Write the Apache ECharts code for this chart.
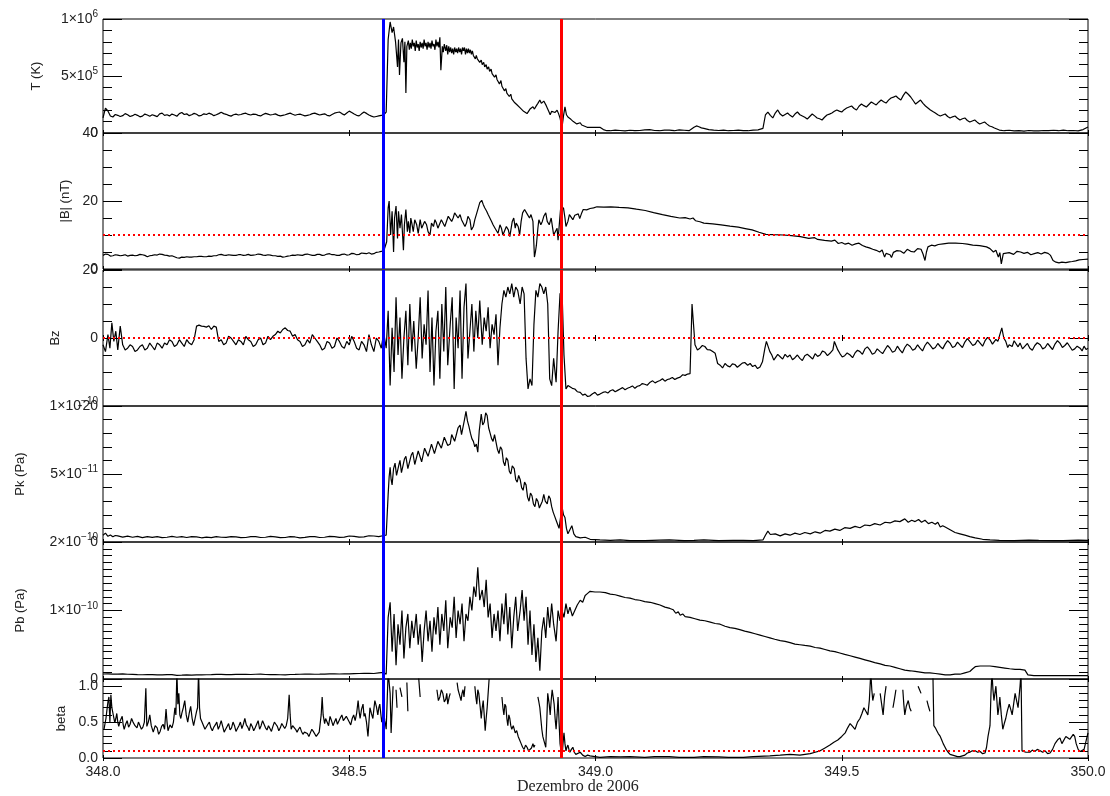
<!DOCTYPE html>
<html>
<head>
<meta charset="utf-8">
<script src="https://cdn.jsdelivr.net/npm/echarts@6/dist/echarts.min.js"></script>
<style>
html,body{margin:0;padding:0;background:#fff;}
#chart{width:1110px;height:796px;}
</style>
</head>
<body>
<div id="chart"></div>
<script>
// ---------------- DATA ----------------
const X_TICKS = [348.0, 348.5, 349.0, 349.5, 350.0];
const X_TITLE = 'Dezembro de 2006';
const SHOCK_DAY = 348.573;   // blue vertical line
const END_DAY = 348.933;     // red vertical line
const B_THRESHOLD = 10;      // |B| dotted line
const BZ_THRESHOLD = 0;      // Bz dotted line
const BETA_THRESHOLD = 0.1;  // beta dotted line

const T_DATA = [
[348.000,1.32e5],[348.005,2.19e5],[348.010,1.93e5],[348.015,1.49e5],[348.020,1.40e5],[348.025,1.62e5],[348.030,1.55e5],[348.035,1.45e5],[348.040,1.52e5],[348.045,1.70e5],[348.050,1.60e5],[348.055,1.45e5],[348.060,1.52e5],[348.065,1.64e5],[348.070,1.55e5],[348.075,1.42e5],[348.080,1.48e5],[348.085,1.66e5],[348.090,1.58e5],[348.095,1.47e5],[348.100,1.60e5],[348.105,1.52e5],[348.110,1.44e5],[348.115,1.68e5],[348.120,1.74e5],[348.125,1.55e5],[348.130,1.60e5],[348.135,1.50e5],[348.140,1.66e5],[348.145,1.58e5],[348.150,1.47e5],[348.155,1.70e5],[348.160,1.80e5],[348.165,1.62e5],[348.170,1.68e5],[348.175,1.52e5],[348.180,1.60e5],[348.185,1.72e5],[348.190,1.64e5],[348.195,1.50e5],[348.200,1.55e5],[348.205,1.68e5],[348.210,1.62e5],[348.215,1.74e5],[348.220,1.66e5],[348.225,1.52e5],[348.230,1.60e5],[348.235,1.70e5],[348.240,1.82e5],[348.245,1.70e5],[348.250,1.64e5],[348.255,1.55e5],[348.260,1.48e5],[348.265,1.60e5],[348.270,1.66e5],[348.275,1.58e5],[348.280,1.62e5],[348.285,1.70e5],[348.290,1.74e5],[348.295,1.63e5],[348.300,1.58e5],[348.305,1.66e5],[348.310,1.64e5],[348.315,1.55e5],[348.320,1.50e5],[348.325,1.62e5],[348.330,1.72e5],[348.335,1.65e5],[348.340,1.58e5],[348.345,1.62e5],[348.350,1.68e5],[348.355,1.57e5],[348.360,1.50e5],[348.365,1.55e5],[348.370,1.60e5],[348.375,1.68e5],[348.380,1.74e5],[348.385,1.64e5],[348.390,1.56e5],[348.395,1.62e5],[348.400,1.66e5],[348.405,1.58e5],[348.410,1.50e5],[348.415,1.55e5],[348.420,1.60e5],[348.425,1.70e5],[348.430,1.74e5],[348.435,1.66e5],[348.440,1.58e5],[348.445,1.64e5],[348.450,1.68e5],[348.455,1.55e5],[348.460,1.50e5],[348.465,1.62e5],[348.470,1.74e5],[348.475,1.80e5],[348.480,1.84e5],[348.485,1.70e5],[348.490,1.58e5],[348.495,1.75e5],[348.500,1.92e5],[348.505,1.80e5],[348.510,1.66e5],[348.515,1.55e5],[348.520,1.50e5],[348.525,1.68e5],[348.530,1.84e5],[348.535,1.72e5],[348.540,1.58e5],[348.545,1.48e5],[348.550,1.40e5],[348.555,1.45e5],[348.560,1.50e5],[348.565,1.55e5],[348.570,1.58e5],[348.575,1.84e5],
[348.577,5.0e5],[348.579,8.2e5],[348.583,9.74e5],[348.587,8.8e5],[348.590,9.3e5],[348.594,8.0e5],[348.598,5.8e5],[348.600,8.2e5],[348.602,5.1e5],[348.605,7.9e5],[348.608,8.3e5],[348.611,6.2e5],[348.613,8.0e5],[348.615,3.5e5],[348.617,7.6e5],[348.620,8.1e5],[348.622,7.3e5],[348.624,7.9e5],[348.626,7.4e5],[348.628,8.2e5],[348.630,7.6e5],[348.632,7.9e5],[348.634,7.2e5],[348.636,8.1e5],[348.638,7.5e5],[348.640,7.8e5],[348.642,7.2e5],[348.644,8.0e5],[348.646,7.5e5],[348.648,7.9e5],[348.650,7.4e5],[348.652,8.2e5],[348.654,7.6e5],[348.656,7.9e5],[348.658,7.3e5],[348.660,8.0e5],[348.662,7.5e5],[348.664,7.9e5],[348.666,7.4e5],[348.668,8.1e5],[348.670,7.6e5],[348.672,7.8e5],[348.674,7.3e5],[348.676,8.2e5],[348.678,7.6e5],[348.680,8.0e5],[348.682,7.5e5],[348.684,8.4e5],[348.686,5.5e5],[348.689,7.6e5],[348.691,7.1e5],[348.693,7.8e5],[348.696,7.2e5],[348.698,7.7e5],[348.700,6.9e5],[348.702,7.6e5],[348.704,7.1e5],[348.706,7.5e5],[348.708,7.0e5],[348.710,7.4e5],[348.712,6.9e5],[348.714,7.5e5],[348.716,7.1e5],[348.718,7.4e5],[348.720,7.0e5],[348.722,7.5e5],[348.724,7.1e5],[348.726,7.4e5],[348.728,6.9e5],[348.730,7.5e5],[348.732,7.2e5],[348.734,7.5e5],[348.736,6.9e5],[348.738,7.4e5],[348.740,7.0e5],[348.742,7.4e5],[348.744,7.0e5],[348.746,7.3e5],[348.748,6.9e5],[348.750,7.2e5],[348.752,6.8e5],[348.754,6.9e5],[348.756,6.5e5],[348.758,6.8e5],[348.760,6.5e5],[348.763,6.6e5],[348.765,6.2e5],[348.768,6.4e5],[348.770,6.0e5],[348.773,6.2e5],[348.775,5.8e5],[348.778,6.0e5],[348.780,5.6e5],[348.783,5.8e5],[348.785,5.4e5],[348.788,5.6e5],[348.790,5.2e5],[348.793,5.3e5],[348.795,4.9e5],[348.798,5.1e5],[348.800,4.7e5],[348.803,4.8e5],[348.805,4.3e5],[348.808,4.6e5],[348.810,4.1e5],[348.813,4.2e5],[348.815,3.7e5],[348.818,3.9e5],[348.820,3.5e5],[348.823,3.6e5],[348.825,3.2e5],[348.828,3.4e5],[348.830,3.0e5],[348.833,3.1e5],[348.835,2.7e5],[348.838,2.8e5],[348.840,2.5e5],[348.844,2.6e5],[348.847,2.2e5],[348.850,2.3e5],[348.854,1.9e5],[348.857,2.0e5],[348.861,1.7e5],[348.864,1.9e5],[348.867,2.1e5],[348.870,2.0e5],[348.873,2.3e5],[348.876,2.1e5],[348.880,2.4e5],[348.883,2.6e5],[348.887,2.9e5],[348.890,2.6e5],[348.892,2.5e5],[348.895,2.8e5],[348.897,2.7e5],[348.900,2.4e5],[348.902,2.2e5],[348.905,1.9e5],[348.908,1.6e5],[348.911,1.9e5],[348.915,2.0e5],[348.918,1.8e5],[348.922,2.0e5],[348.925,1.7e5],[348.928,1.3e5],[348.932,0.5e5],[348.935,1.5e5],[348.938,2.3e5],[348.941,1.6e5],[348.944,1.4e5],[348.947,1.3e5],[348.950,1.2e5],[348.955,1.0e5],[348.958,1.1e5],[348.962,0.8e5],[348.965,0.9e5],[348.969,0.9e5],[348.972,0.7e5],[348.976,0.6e5],[348.983,0.5e5],[348.995,0.5e5],[349.009,0.5e5],[349.016,0.3e5],[349.023,0.2e5],
[349.03,0.2e5],[349.04,0.26e5],[349.05,0.22e5],[349.06,0.18e5],[349.07,0.24e5],[349.08,0.2e5],[349.09,0.22e5],[349.10,0.28e5],[349.11,0.3e5],[349.12,0.22e5],[349.13,0.2e5],[349.14,0.26e5],[349.15,0.25e5],[349.16,0.2e5],[349.17,0.28e5],[349.18,0.24e5],[349.19,0.2e5],[349.20,0.5e5],[349.205,0.62e5],[349.21,0.55e5],[349.215,0.45e5],[349.22,0.4e5],[349.23,0.3e5],[349.24,0.25e5],[349.25,0.22e5],[349.26,0.26e5],[349.27,0.2e5],[349.28,0.22e5],[349.29,0.25e5],[349.30,0.2e5],[349.31,0.2e5],[349.32,0.26e5],[349.33,0.28e5],[349.34,0.4e5],
[349.345,1.58e5],[349.350,1.84e5],[349.355,1.55e5],[349.360,1.32e5],[349.365,1.75e5],[349.370,2.02e5],[349.375,1.66e5],[349.380,1.49e5],[349.385,1.62e5],[349.390,1.75e5],[349.395,1.55e5],[349.400,1.40e5],[349.405,1.66e5],[349.410,1.84e5],[349.415,1.60e5],[349.420,1.49e5],[349.425,1.38e5],[349.430,1.22e5],[349.435,1.45e5],[349.440,1.67e5],[349.445,1.50e5],[349.450,1.32e5],[349.455,1.25e5],[349.460,1.14e5],[349.465,1.38e5],[349.470,1.58e5],[349.475,1.66e5],[349.480,1.75e5],[349.485,1.90e5],[349.490,2.02e5],[349.495,1.92e5],[349.500,1.84e5],[349.505,2.05e5],[349.510,2.19e5],[349.515,2.28e5],[349.520,2.37e5],[349.525,2.15e5],[349.530,2.02e5],[349.535,2.35e5],[349.540,2.54e5],[349.545,2.40e5],[349.550,2.28e5],[349.555,2.50e5],[349.560,2.72e5],[349.565,2.58e5],[349.570,2.46e5],[349.575,2.70e5],[349.580,2.89e5],[349.585,2.75e5],[349.590,2.63e5],[349.595,2.88e5],[349.600,3.07e5],[349.605,3.15e5],[349.610,3.25e5],[349.615,3.05e5],[349.620,2.89e5],[349.625,3.30e5],[349.630,3.60e5],[349.635,3.40e5],[349.640,3.16e5],[349.645,2.85e5],[349.650,2.54e5],[349.655,2.72e5],[349.660,2.89e5],[349.665,2.60e5],[349.670,2.37e5],[349.675,2.20e5],[349.680,2.02e5],[349.685,1.88e5],[349.690,1.75e5],[349.695,1.60e5],[349.700,1.49e5],[349.705,1.58e5],[349.710,1.67e5],[349.715,1.45e5],[349.720,1.32e5],[349.725,1.42e5],[349.730,1.49e5],[349.735,1.30e5],[349.740,1.14e5],[349.745,1.25e5],[349.750,1.32e5],[349.755,1.10e5],[349.760,0.96e5],[349.765,1.05e5],[349.770,1.14e5],[349.775,0.95e5],[349.780,0.79e5],[349.785,0.88e5],[349.790,0.96e5],[349.795,0.78e5],[349.800,0.61e5],[349.805,0.55e5],[349.810,0.44e5],[349.815,0.35e5],[349.820,0.26e5],[349.830,0.2e5],[349.840,0.24e5],[349.850,0.18e5],[349.860,0.2e5],[349.870,0.16e5],[349.880,0.22e5],[349.890,0.18e5],[349.900,0.18e5],[349.910,0.22e5],[349.920,0.2e5],[349.930,0.24e5],[349.940,0.2e5],[349.950,0.26e5],[349.960,0.2e5],[349.970,0.22e5],[349.980,0.18e5],[349.990,0.3e5],[350.000,0.53e5]
];

const B_DATA = [
[348.000,4.0],[348.005,4.4],[348.010,4.3],[348.015,3.8],[348.020,3.9],[348.025,4.2],[348.030,4.1],[348.035,3.9],[348.040,4.0],[348.045,4.2],[348.050,3.8],[348.055,4.0],[348.060,4.1],[348.065,3.9],[348.070,4.0],[348.075,4.3],[348.080,4.2],[348.085,4.0],[348.090,3.6],[348.095,3.9],[348.100,4.0],[348.105,4.2],[348.110,4.1],[348.115,4.4],[348.120,4.3],[348.125,4.1],[348.130,4.0],[348.135,3.8],[348.140,3.9],[348.145,3.6],[348.150,3.3],[348.155,3.2],[348.160,3.5],[348.165,3.4],[348.170,3.6],[348.175,3.5],[348.180,3.5],[348.185,3.6],[348.190,3.6],[348.195,3.7],[348.200,3.7],[348.205,3.6],[348.210,3.6],[348.215,3.8],[348.220,3.7],[348.225,3.9],[348.230,3.9],[348.235,4.2],[348.240,4.3],[348.245,4.1],[348.250,4.0],[348.255,4.2],[348.260,4.1],[348.265,4.0],[348.270,4.0],[348.275,4.2],[348.280,4.2],[348.285,4.0],[348.290,4.1],[348.295,4.3],[348.300,4.0],[348.305,4.1],[348.310,4.2],[348.315,4.4],[348.320,4.3],[348.325,4.1],[348.330,4.0],[348.335,4.2],[348.340,4.1],[348.345,3.9],[348.350,3.9],[348.355,3.7],[348.360,3.8],[348.365,3.5],[348.370,3.6],[348.375,3.8],[348.380,3.9],[348.385,4.1],[348.390,4.0],[348.395,4.2],[348.400,4.1],[348.405,4.0],[348.410,4.3],[348.415,4.4],[348.420,4.2],[348.425,4.0],[348.430,4.0],[348.435,4.3],[348.440,4.3],[348.445,4.0],[348.450,4.1],[348.455,4.4],[348.460,4.5],[348.465,4.2],[348.470,4.2],[348.475,4.0],[348.480,4.0],[348.485,4.3],[348.490,4.4],[348.495,4.1],[348.500,4.2],[348.505,4.6],[348.510,4.5],[348.515,4.2],[348.520,4.3],[348.525,4.7],[348.530,4.6],[348.535,4.5],[348.540,4.8],[348.545,4.4],[348.550,4.5],[348.555,4.9],[348.560,5.0],[348.565,5.2],[348.570,5.3],[348.574,5.6],
[348.576,8],[348.579,18],[348.581,20],[348.584,10],[348.587,17],[348.590,5],[348.592,15],[348.595,18.5],[348.598,9],[348.600,17],[348.603,12],[348.606,16],[348.610,5.5],[348.612,13],[348.615,17.5],[348.618,11],[348.620,14],[348.623,10.5],[348.625,15],[348.627,13.5],[348.630,11],[348.633,14.5],[348.637,13],[348.640,10.5],[348.644,14.5],[348.647,12],[348.650,11.5],[348.653,14],[348.657,13],[348.660,11],[348.664,10],[348.667,13.5],[348.671,12.5],[348.674,14.5],[348.677,13.5],[348.680,12],[348.684,11.5],[348.687,14.5],[348.691,14],[348.694,12.5],[348.698,13],[348.701,15.5],[348.704,16],[348.708,14],[348.711,15],[348.714,16.5],[348.718,17],[348.721,15],[348.725,16],[348.728,14.5],[348.731,15],[348.735,12.5],[348.738,13.5],[348.741,15.5],[348.745,14.5],[348.748,11.5],[348.752,12.5],[348.755,14.5],[348.758,16],[348.762,18],[348.765,19.5],[348.769,20.2],[348.772,19],[348.775,18],[348.779,17],[348.782,16],[348.785,15.5],[348.789,14],[348.792,13],[348.796,12],[348.799,11.5],[348.802,10.5],[348.806,13],[348.809,12],[348.812,10],[348.816,10.5],[348.819,12.5],[348.823,11.5],[348.826,9.5],[348.829,10],[348.831,14],[348.834,15],[348.837,12],[348.839,13.5],[348.843,12.5],[348.846,10],[348.849,14],[348.852,16.5],[348.856,17.5],[348.859,17],[348.862,16],[348.866,15],[348.869,16],[348.873,14],[348.876,3.5],[348.878,5],[348.880,7],[348.883,12],[348.885,14.5],[348.889,13],[348.892,14],[348.895,15.5],[348.899,16.5],[348.902,14],[348.906,13],[348.910,15],[348.913,12],[348.915,10],[348.919,9.5],[348.922,12],[348.924,8.5],[348.927,14],[348.929,17.5],[348.933,18],
[348.935,18],[348.938,15],[348.940,12.5],[348.944,14],[348.947,16],[348.951,15.5],[348.954,14.5],[348.958,15.8],[348.961,15.5],[348.965,16.2],[348.968,14.8],[348.972,16.5],[348.975,17.5],[348.982,17.4],[348.989,17.8],[348.996,18.0],[349.003,18.3],[349.017,18.2],[349.031,18.3],[349.048,18.1],[349.066,18.0],[349.083,17.6],[349.101,17.2],[349.118,16.6],[349.136,16.0],[349.153,15.5],[349.171,15.0],[349.182,15.1],[349.192,14.7],[349.198,15.0],[349.203,14.2],[349.212,13.9],[349.220,13.5],[349.238,13.3],[349.255,13.0],[349.273,12.6],[349.290,12.3],[349.304,11.9],[349.318,11.5],[349.332,10.8],[349.346,10.2],[349.363,10.1],[349.381,10.0],[349.398,9.8],[349.416,9.5],[349.433,9.0],[349.445,9.2],[349.451,8.7],[349.465,8.4],[349.479,8.2],[349.486,8.5],[349.493,7.5],[349.500,7.8],[349.507,7.3],[349.514,7.6],[349.521,7.0],[349.528,7.4],[349.535,7.6],[349.542,6.9],[349.549,6.5],[349.556,6.2],[349.563,5.8],[349.570,5.5],[349.577,5.0],[349.582,5.6],[349.587,3.5],[349.590,4.6],[349.594,4.8],[349.598,4.2],[349.601,3.4],[349.605,4.9],[349.608,4.5],[349.612,5.4],[349.619,5.3],[349.626,4.6],[349.633,5.8],[349.640,5.2],[349.647,5.0],[349.654,6.0],[349.661,5.8],[349.665,4.4],[349.669,2.5],[349.672,5.0],[349.675,6.5],[349.678,6.0],[349.682,7.0],[349.689,6.8],[349.696,7.2],[349.706,7.4],[349.717,7.6],[349.731,7.6],[349.745,7.5],[349.755,7.3],[349.766,7.0],[349.780,6.9],[349.794,6.5],[349.801,6.0],[349.808,5.0],[349.813,5.5],[349.818,3.5],[349.821,4.8],[349.824,1.5],[349.828,4.5],[349.832,4.0],[349.840,4.8],[349.849,4.3],[349.856,5.2],[349.863,5.0],[349.870,4.6],[349.877,4.9],[349.884,4.2],[349.891,4.5],[349.898,4.8],[349.905,4.4],[349.912,4.9],[349.919,4.6],[349.924,4.0],[349.929,2.5],[349.935,2.0],[349.941,1.8],[349.947,2.0],[349.955,1.9],[349.962,2.1],[349.968,2.2],[349.975,2.4],[349.982,2.7],[349.990,2.8],[350.000,2.9]
];

const BZ_DATA = [
[348.000,-2],[348.005,-4],[348.010,1],[348.014,-3],[348.018,4.5],[348.022,-1],[348.026,2],[348.030,-3.5],[348.035,3.5],[348.040,-2],[348.045,-3.5],[348.050,-3],[348.055,-2],[348.060,-2.5],[348.065,-4],[348.070,-3.5],[348.075,-2.5],[348.080,-2],[348.085,-3.5],[348.090,-3],[348.095,-1.5],[348.100,-2.5],[348.105,-3.5],[348.110,-1.5],[348.115,-2],[348.120,-3],[348.125,-1.5],[348.130,-2],[348.135,-0.5],[348.140,-1],[348.145,-2.5],[348.150,-2],[348.155,-0.5],[348.160,-1.5],[348.165,-2.5],[348.170,-0.5],[348.175,-1.5],[348.180,-2],[348.185,-0.5],[348.188,-1],[348.190,3.5],[348.195,3.8],[348.200,3.5],[348.205,3.4],[348.210,3.2],[348.215,3.6],[348.220,2.5],[348.225,3.5],[348.230,3.2],[348.235,-1],[348.240,-0.5],[348.245,-2],[348.250,-1.5],[348.255,0.5],[348.260,0],[348.265,-1],[348.270,-2],[348.275,-0.5],[348.280,-1],[348.285,-2],[348.290,0.5],[348.295,-0.5],[348.300,-1],[348.305,-2.5],[348.310,-2],[348.315,-0.5],[348.320,0],[348.325,-2],[348.330,-1.5],[348.335,0.5],[348.340,-0.5],[348.345,0.5],[348.350,1],[348.355,2],[348.360,1.5],[348.365,2.5],[348.370,3],[348.375,2.2],[348.380,2],[348.385,0.5],[348.390,1],[348.395,-0.5],[348.400,-1],[348.405,-2.5],[348.410,-2],[348.415,-0.5],[348.420,-1.5],[348.425,1],[348.430,0],[348.435,-1],[348.440,-2],[348.445,-3.5],[348.450,-3],[348.455,-1],[348.460,-1.5],[348.465,-3],[348.470,-2.5],[348.475,0],[348.480,-1],[348.485,-2.5],[348.490,-3],[348.495,-1],[348.500,-2],[348.505,0.5],[348.510,-1],[348.515,-3],[348.520,-3.5],[348.525,-1],[348.530,-2],[348.535,-4],[348.540,1],[348.545,-2],[348.550,-4],[348.555,0],[348.560,-1],[348.565,-3],[348.570,1.5],
[348.575,-3],[348.579,8],[348.583,-14],[348.587,3],[348.591,-10],[348.595,12],[348.599,-5],[348.603,6],[348.607,-12],[348.611,0],[348.615,8],[348.619,-8],[348.623,10],[348.627,-4],[348.631,5],[348.636,-9],[348.640,0],[348.644,12],[348.648,-6],[348.652,4],[348.656,-2],[348.660,14],[348.664,-10],[348.668,6],[348.672,-14],[348.676,2],[348.680,8],[348.684,-12],[348.688,10],[348.692,-4],[348.696,15],[348.700,-8],[348.705,4],[348.709,12],[348.713,-15],[348.717,6],[348.721,-3],[348.725,14],[348.729,-12],[348.733,9],[348.737,16],[348.741,-6],[348.745,2],[348.749,10],[348.753,-4],[348.757,8],[348.761,0],[348.765,11],[348.770,-2],[348.774,6],[348.778,2],[348.782,9],[348.786,-3],[348.790,4],[348.794,1],[348.798,7],[348.802,-8],[348.806,3],[348.810,10],[348.814,14],[348.818,12],[348.822,15],[348.826,13],[348.830,16],[348.834,12],[348.838,15],[348.842,14],[348.847,10],[348.851,15],[348.855,13],[348.859,-6],[348.863,-15],[348.867,-12],[348.871,-14],[348.875,4],[348.879,14],[348.883,12],[348.887,16],[348.891,15],[348.895,13],[348.899,15],[348.903,10],[348.907,-12],[348.911,-14],[348.915,-6],[348.920,-13],[348.924,2],[348.928,13],[348.932,14],[348.936,-5],[348.940,-15],[348.944,-14],[348.948,-13.5],
[348.953,-14.8],[348.958,-15],[348.963,-15.8],[348.969,-16],[348.974,-16.8],[348.979,-16.5],[348.984,-17.2],[348.989,-17],[348.994,-16.4],[348.999,-16],[349.004,-16.8],[349.009,-16.5],[349.015,-16],[349.020,-15.8],[349.025,-16.2],[349.030,-15.5],[349.035,-15.2],[349.040,-15.8],[349.045,-15.4],[349.050,-15],[349.055,-14.6],[349.060,-15.2],[349.065,-14.8],[349.070,-14.5],[349.075,-14.1],[349.080,-14.8],[349.085,-14.2],[349.090,-14],[349.095,-13.4],[349.100,-13.6],[349.105,-13.9],[349.111,-13],[349.116,-12.6],[349.121,-13.2],[349.126,-12.8],[349.131,-12.5],[349.136,-12],[349.141,-12.7],[349.146,-12.2],[349.151,-12],[349.156,-11.6],[349.161,-12.2],[349.166,-11.8],[349.172,-11.5],[349.177,-10.8],[349.182,-11],[349.187,-10.6],[349.192,-10.5],[349.196,10],[349.199,4],[349.202,-2],[349.207,-3.5],[349.212,-3],[349.217,-2.2],[349.222,-2.5],[349.227,-3.4],[349.233,-3.5],[349.238,-4],[349.243,-4.5],[349.248,-7.5],[349.253,-8],[349.258,-8.8],[349.263,-7.5],[349.268,-8.2],[349.273,-8.5],[349.278,-7.6],[349.283,-7.8],[349.288,-8.6],[349.293,-8],[349.298,-7.4],[349.303,-7.2],[349.309,-8],[349.314,-7.5],[349.319,-8.4],[349.324,-8],[349.329,-9],[349.334,-8.5],[349.339,-7],[349.344,-3],[349.347,-1],[349.350,-1.5],[349.354,-4],[349.358,-5],[349.362,-6.5],[349.366,-6],[349.370,-4.8],[349.375,-5.5],[349.380,-6.2],[349.385,-4.8],[349.390,-5.6],[349.395,-5],[349.400,-6.4],[349.405,-5.8],[349.410,-5],[349.415,-6],[349.420,-6.6],[349.425,-5.2],[349.430,-4.8],[349.436,-5.5],[349.441,-6.2],[349.446,-4.6],[349.451,-5.4],[349.456,-5],[349.461,-3.8],[349.466,-4.2],[349.471,-5.2],[349.476,-4.5],[349.482,-3.5],[349.485,-1],[349.488,-1.5],[349.492,-3.5],[349.496,-4.5],[349.501,-5.6],[349.506,-5.2],[349.511,-4.4],[349.517,-5],[349.522,-5.8],[349.527,-4.4],[349.532,-3.6],[349.537,-4],[349.542,-4.8],[349.547,-3.2],[349.552,-2.6],[349.557,-3.5],[349.562,-4.8],[349.567,-4.4],[349.572,-3.2],[349.578,-4],[349.583,-4.6],[349.588,-3.4],[349.593,-2.2],[349.598,-3],[349.603,-4.2],[349.608,-3.8],[349.613,-2.4],[349.618,-3.5],[349.623,-4.4],[349.628,-2.8],[349.633,-1.8],[349.639,-2.5],[349.644,-3.6],[349.649,-3.2],[349.654,-2],[349.659,-3],[349.664,-3.8],[349.669,-2.2],[349.674,-1.2],[349.679,-2],[349.685,-3.2],[349.690,-2.8],[349.695,-1.6],[349.700,-2.5],[349.705,-3.2],[349.710,-1.8],[349.715,-0.8],[349.720,-1.5],[349.725,-2.8],[349.730,-2.4],[349.735,-1.2],[349.740,-2],[349.745,-2.8],[349.750,-1.2],[349.755,-0.2],[349.760,-1],[349.766,-2.2],[349.771,-1.8],[349.776,-0.6],[349.781,-1.5],[349.786,-2.4],[349.791,-0.8],[349.796,0.2],[349.801,-0.5],[349.806,-1.8],[349.809,-1.4],[349.813,-0.4],[349.817,-1],[349.821,1],[349.825,3],[349.829,0],[349.833,-1],[349.837,-2.8],[349.840,-2],[349.846,-2.5],[349.850,-0.8],[349.854,-1.2],[349.858,-2.6],[349.862,-1.5],[349.867,-3.2],[349.872,-2.4],[349.877,-1.6],[349.882,-3],[349.887,-3.6],[349.892,-2.2],[349.897,-1.4],[349.903,-2],[349.908,-3.2],[349.913,-2.8],[349.918,-1.6],[349.923,-2.5],[349.928,-3.4],[349.933,-1.8],[349.938,-0.8],[349.943,-1.5],[349.948,-2.8],[349.953,-2.2],[349.958,-1.4],[349.963,-2.5],[349.968,-3.6],[349.973,-3.2],[349.978,-2.4],[349.984,-3],[349.988,-3.8],[349.992,-2.4],[349.996,-3.4],[350.000,-3]
];

const PK_DATA = [
[348.000,5.0e-12],[348.005,6.5e-12],[348.010,4.2e-12],[348.015,5.2e-12],[348.020,3.8e-12],[348.025,4.8e-12],[348.030,4.5e-12],[348.040,3.6e-12],[348.050,4.3e-12],[348.060,3.5e-12],[348.070,4.1e-12],[348.080,3.2e-12],[348.090,3.9e-12],[348.100,3.4e-12],[348.110,4.0e-12],[348.120,3.2e-12],[348.130,3.5e-12],[348.140,4.2e-12],[348.150,3.5e-12],[348.160,3.9e-12],[348.170,3.3e-12],[348.180,4.0e-12],[348.190,3.8e-12],[348.200,3.1e-12],[348.210,3.6e-12],[348.220,3.2e-12],[348.230,3.9e-12],[348.240,3.5e-12],[348.250,3.4e-12],[348.260,4.0e-12],[348.270,3.7e-12],[348.280,3.2e-12],[348.290,3.3e-12],[348.300,3.9e-12],[348.310,3.9e-12],[348.320,3.3e-12],[348.330,3.5e-12],[348.340,4.1e-12],[348.350,3.8e-12],[348.360,3.2e-12],[348.370,3.3e-12],[348.380,3.9e-12],[348.390,3.7e-12],[348.400,3.1e-12],[348.410,3.4e-12],[348.420,4.0e-12],[348.430,3.9e-12],[348.440,3.3e-12],[348.450,3.5e-12],[348.460,4.2e-12],[348.470,4.0e-12],[348.480,3.4e-12],[348.490,3.6e-12],[348.500,4.4e-12],[348.510,4.2e-12],[348.520,3.6e-12],[348.530,3.8e-12],[348.540,4.6e-12],[348.550,4.4e-12],[348.560,4.0e-12],[348.570,4.8e-12],[348.575,5.0e-12],
[348.579,3.5e-11],[348.581,4.8e-11],[348.583,5.5e-11],[348.585,4.6e-11],[348.587,4.2e-11],[348.590,5.4e-11],[348.593,5.8e-11],[348.596,4.9e-11],[348.599,5.0e-11],[348.601,5.7e-11],[348.603,6.0e-11],[348.606,5.1e-11],[348.609,5.2e-11],[348.612,6.1e-11],[348.615,6.3e-11],[348.619,5.4e-11],[348.623,5.5e-11],[348.626,6.4e-11],[348.629,6.6e-11],[348.633,5.7e-11],[348.636,5.8e-11],[348.640,6.7e-11],[348.644,6.8e-11],[348.647,5.9e-11],[348.650,6.0e-11],[348.653,6.9e-11],[348.656,7.0e-11],[348.660,6.3e-11],[348.664,6.4e-11],[348.667,7.2e-11],[348.670,7.3e-11],[348.673,6.5e-11],[348.676,6.6e-11],[348.680,7.4e-11],[348.684,7.5e-11],[348.687,6.9e-11],[348.690,7.0e-11],[348.693,7.7e-11],[348.696,7.8e-11],[348.700,7.1e-11],[348.705,7.2e-11],[348.708,7.9e-11],[348.711,8.0e-11],[348.714,7.4e-11],[348.717,7.5e-11],[348.721,8.4e-11],[348.725,8.6e-11],[348.728,7.9e-11],[348.731,8.0e-11],[348.734,9.0e-11],[348.737,9.6e-11],[348.740,8.9e-11],[348.743,8.5e-11],[348.746,8.0e-11],[348.749,7.6e-11],[348.752,7.4e-11],[348.755,7.0e-11],[348.758,7.2e-11],[348.761,6.6e-11],[348.764,8.2e-11],[348.768,9.4e-11],[348.771,8.6e-11],[348.774,8.8e-11],[348.777,9.5e-11],[348.780,9.3e-11],[348.783,8.4e-11],[348.786,8.0e-11],[348.789,7.6e-11],[348.792,7.4e-11],[348.795,7.9e-11],[348.798,7.8e-11],[348.801,6.8e-11],[348.804,6.5e-11],[348.807,7.0e-11],[348.810,6.8e-11],[348.813,5.9e-11],[348.816,5.6e-11],[348.819,6.2e-11],[348.822,6.0e-11],[348.825,5.2e-11],[348.828,5.0e-11],[348.831,5.6e-11],[348.835,5.4e-11],[348.838,4.6e-11],[348.841,4.4e-11],[348.844,4.9e-11],[348.847,4.6e-11],[348.850,4.0e-11],[348.853,3.8e-11],[348.856,4.4e-11],[348.859,4.2e-11],[348.862,3.3e-11],[348.865,3.0e-11],[348.868,3.6e-11],[348.871,3.4e-11],[348.874,2.8e-11],[348.877,2.6e-11],[348.880,3.2e-11],[348.883,3.0e-11],[348.886,2.5e-11],[348.889,2.4e-11],[348.892,3.0e-11],[348.895,3.5e-11],[348.898,3.0e-11],[348.902,2.8e-11],[348.905,3.4e-11],[348.908,3.2e-11],[348.911,2.6e-11],[348.914,2.2e-11],[348.917,1.9e-11],[348.920,1.6e-11],[348.923,1.3e-11],[348.926,1.0e-11],[348.929,1.8e-11],[348.932,2.6e-11],[348.935,2.0e-11],[348.938,1.8e-11],[348.941,1.0e-11],[348.944,0.6e-11],[348.948,0.9e-11],[348.952,1.2e-11],[348.956,0.6e-11],[348.960,0.4e-11],[348.969,0.3e-11],[348.979,0.35e-11],[348.989,0.2e-11],[349.009,0.15e-11],
[349.03,0.12e-11],[349.05,0.15e-11],[349.07,0.1e-11],[349.10,0.1e-11],[349.13,0.14e-11],[349.15,0.15e-11],[349.18,0.1e-11],[349.20,0.12e-11],[349.22,0.16e-11],[349.25,0.1e-11],[349.28,0.12e-11],[349.30,0.12e-11],[349.32,0.1e-11],[349.34,0.15e-11],[349.345,0.5e-11],[349.350,0.8e-11],[349.355,0.55e-11],[349.365,0.6e-11],[349.375,0.45e-11],[349.385,0.6e-11],[349.395,0.5e-11],[349.405,0.65e-11],[349.415,0.55e-11],[349.425,0.7e-11],[349.436,0.6e-11],[349.446,0.75e-11],[349.456,0.65e-11],[349.466,0.85e-11],[349.476,0.8e-11],[349.486,0.95e-11],[349.496,0.85e-11],[349.506,1.05e-11],[349.517,1.0e-11],[349.527,1.15e-11],[349.537,1.05e-11],[349.547,1.25e-11],[349.557,1.2e-11],[349.567,1.35e-11],[349.578,1.25e-11],[349.588,1.45e-11],[349.598,1.4e-11],[349.608,1.55e-11],[349.618,1.5e-11],[349.628,1.7e-11],[349.635,1.45e-11],[349.642,1.6e-11],[349.649,1.5e-11],[349.656,1.65e-11],[349.662,1.45e-11],[349.669,1.6e-11],[349.676,1.35e-11],[349.683,1.45e-11],[349.690,1.3e-11],[349.695,1.45e-11],[349.700,1.1e-11],[349.705,1.2e-11],[349.710,1.1e-11],[349.720,0.9e-11],[349.730,0.7e-11],[349.740,0.6e-11],[349.750,0.5e-11],[349.760,0.4e-11],[349.771,0.3e-11],[349.786,0.2e-11],[349.801,0.15e-11],[349.820,0.12e-11],[349.850,0.1e-11],[349.880,0.14e-11],[349.900,0.12e-11],[349.930,0.1e-11],[349.950,0.1e-11],[349.980,0.14e-11],[350.000,0.12e-11]
];

const PB_DATA = [
[348.000,7.3e-12],[348.010,7.6e-12],[348.020,7.0e-12],[348.030,7.2e-12],[348.040,7.4e-12],[348.050,6.9e-12],[348.060,6.8e-12],[348.070,6.4e-12],[348.080,6.2e-12],[348.090,6.6e-12],[348.100,6.5e-12],[348.110,6.1e-12],[348.120,6.0e-12],[348.130,6.4e-12],[348.140,6.3e-12],[348.150,5.4e-12],[348.160,5.6e-12],[348.170,5.9e-12],[348.180,5.8e-12],[348.190,6.1e-12],[348.200,6.0e-12],[348.210,6.2e-12],[348.220,6.3e-12],[348.230,6.7e-12],[348.240,6.8e-12],[348.250,6.4e-12],[348.260,6.5e-12],[348.270,6.7e-12],[348.280,6.9e-12],[348.290,6.8e-12],[348.300,6.6e-12],[348.310,6.9e-12],[348.320,7.0e-12],[348.330,6.6e-12],[348.340,6.4e-12],[348.350,6.3e-12],[348.360,6.2e-12],[348.370,6.0e-12],[348.380,6.6e-12],[348.390,6.7e-12],[348.400,6.9e-12],[348.410,7.1e-12],[348.420,7.2e-12],[348.430,6.9e-12],[348.440,7.0e-12],[348.450,7.2e-12],[348.460,7.5e-12],[348.470,7.4e-12],[348.480,7.3e-12],[348.490,7.6e-12],[348.500,7.6e-12],[348.510,7.9e-12],[348.520,8.0e-12],[348.530,8.2e-12],[348.540,8.4e-12],[348.550,8.0e-12],[348.560,9.0e-12],[348.570,9.6e-12],[348.575,7.0e-12],
[348.579,0.9e-10],[348.583,1.12e-10],[348.587,0.4e-10],[348.591,0.95e-10],[348.595,0.2e-10],[348.599,0.8e-10],[348.603,0.5e-10],[348.607,1.0e-10],[348.611,0.3e-10],[348.615,0.75e-10],[348.619,0.95e-10],[348.623,0.45e-10],[348.627,0.85e-10],[348.631,0.6e-10],[348.636,0.95e-10],[348.640,0.5e-10],[348.644,0.8e-10],[348.648,0.25e-10],[348.652,0.7e-10],[348.656,1.0e-10],[348.660,0.55e-10],[348.664,0.85e-10],[348.668,0.4e-10],[348.672,0.9e-10],[348.676,0.65e-10],[348.680,1.05e-10],[348.684,0.5e-10],[348.688,0.95e-10],[348.692,0.7e-10],[348.696,1.15e-10],[348.700,0.45e-10],[348.705,0.9e-10],[348.709,0.75e-10],[348.713,1.2e-10],[348.717,0.6e-10],[348.721,1.0e-10],[348.725,0.8e-10],[348.729,1.1e-10],[348.733,0.55e-10],[348.737,0.95e-10],[348.741,0.85e-10],[348.745,1.2e-10],[348.749,1.0e-10],[348.753,1.35e-10],[348.757,1.2e-10],[348.761,1.63e-10],[348.765,1.15e-10],[348.770,1.3e-10],[348.774,1.05e-10],[348.778,1.45e-10],[348.782,0.9e-10],[348.786,1.1e-10],[348.790,0.6e-10],[348.794,0.95e-10],[348.798,0.7e-10],[348.802,1.0e-10],[348.806,0.55e-10],[348.810,1.1e-10],[348.814,0.8e-10],[348.818,1.25e-10],[348.822,0.65e-10],[348.826,1.05e-10],[348.830,0.45e-10],[348.834,0.9e-10],[348.838,1.2e-10],[348.842,0.7e-10],[348.847,1.0e-10],[348.851,1.3e-10],[348.855,0.85e-10],[348.859,1.2e-10],[348.863,0.5e-10],[348.867,1.0e-10],[348.871,0.35e-10],[348.875,0.8e-10],[348.879,0.25e-10],[348.883,0.6e-10],[348.887,0.12e-10],[348.891,0.7e-10],[348.895,0.9e-10],[348.899,0.6e-10],[348.903,1.05e-10],[348.907,0.75e-10],[348.911,1.1e-10],[348.915,0.8e-10],[348.920,0.55e-10],[348.924,1.0e-10],[348.928,0.85e-10],[348.932,1.0e-10],[348.936,0.9e-10],[348.940,1.1e-10],[348.944,0.95e-10],[348.948,1.05e-10],
[348.953,0.92e-10],[348.958,1.0e-10],[348.963,1.08e-10],[348.969,1.15e-10],[348.974,1.12e-10],[348.979,1.22e-10],[348.984,1.25e-10],[348.989,1.28e-10],[348.999,1.27e-10],[349.009,1.27e-10],[349.020,1.26e-10],[349.030,1.24e-10],[349.040,1.23e-10],[349.050,1.21e-10],[349.060,1.19e-10],[349.070,1.18e-10],[349.080,1.16e-10],[349.090,1.15e-10],[349.100,1.13e-10],[349.111,1.12e-10],[349.121,1.10e-10],[349.131,1.08e-10],[349.141,1.05e-10],[349.151,1.03e-10],[349.158,1.01e-10],[349.163,0.96e-10],[349.168,0.98e-10],[349.172,0.93e-10],[349.177,0.95e-10],[349.182,0.91e-10],[349.192,0.90e-10],[349.202,0.88e-10],[349.212,0.86e-10],[349.222,0.85e-10],[349.233,0.83e-10],[349.243,0.81e-10],[349.253,0.80e-10],[349.263,0.77e-10],[349.273,0.75e-10],[349.283,0.74e-10],[349.293,0.72e-10],[349.303,0.70e-10],[349.314,0.68e-10],[349.324,0.66e-10],[349.334,0.64e-10],[349.344,0.62e-10],[349.354,0.60e-10],[349.364,0.58e-10],[349.375,0.56e-10],[349.385,0.55e-10],[349.395,0.53e-10],[349.405,0.51e-10],[349.415,0.50e-10],[349.425,0.49e-10],[349.436,0.48e-10],[349.446,0.46e-10],[349.456,0.45e-10],[349.466,0.43e-10],[349.476,0.41e-10],[349.486,0.40e-10],[349.496,0.38e-10],[349.506,0.36e-10],[349.517,0.34e-10],[349.527,0.32e-10],[349.537,0.30e-10],[349.547,0.28e-10],[349.557,0.26e-10],[349.567,0.24e-10],[349.578,0.22e-10],[349.588,0.20e-10],[349.598,0.19e-10],[349.608,0.17e-10],[349.618,0.15e-10],[349.628,0.13e-10],[349.639,0.12e-10],[349.649,0.11e-10],[349.659,0.10e-10],[349.669,0.09e-10],[349.679,0.09e-10],[349.690,0.08e-10],[349.700,0.07e-10],[349.710,0.06e-10],[349.720,0.06e-10],[349.730,0.07e-10],[349.740,0.07e-10],[349.750,0.09e-10],[349.760,0.11e-10],[349.766,0.15e-10],[349.771,0.18e-10],[349.781,0.19e-10],[349.791,0.19e-10],[349.801,0.19e-10],[349.811,0.18e-10],[349.821,0.17e-10],[349.831,0.16e-10],[349.841,0.15e-10],[349.852,0.14e-10],[349.862,0.14e-10],[349.872,0.13e-10],[349.878,0.06e-10],[349.890,0.05e-10],[349.903,0.05e-10],[349.920,0.05e-10],[349.943,0.05e-10],[349.970,0.05e-10],[350.000,0.05e-10]
];

const BETA_DATA = [
[348.002,0.4],[348.004,0.42],[348.006,0.55],[348.008,0.67],[348.010,0.78],[348.012,0.85],[348.014,0.5],[348.016,0.88],[348.018,0.7],[348.020,0.63],[348.022,0.56],[348.024,0.49],[348.026,0.55],[348.028,0.62],[348.030,0.5],[348.032,0.44],[348.035,0.52],[348.039,0.58],[348.041,0.46],[348.043,0.4],[348.046,0.47],[348.049,0.52],[348.052,0.43],[348.055,0.47],[348.058,0.55],[348.061,0.5],[348.065,0.45],[348.069,0.42],[348.072,0.5],[348.075,0.48],[348.078,0.4],[348.081,0.43],[348.084,0.5],[348.087,0.97],[348.089,0.44],[348.092,0.5],[348.095,0.6],[348.098,0.45],[348.102,0.36],[348.106,0.45],[348.110,0.42],[348.113,0.33],[348.116,0.37],[348.119,0.44],[348.122,0.47],[348.125,0.4],[348.128,0.68],[348.130,0.5],[348.132,0.38],[348.136,0.46],[348.140,0.42],[348.143,0.5],[348.146,0.7],[348.148,0.6],[348.150,1.2],[348.152,0.75],[348.154,0.9],[348.156,0.6],[348.158,0.55],[348.160,0.62],[348.163,0.7],[348.166,0.8],[348.169,0.6],[348.172,0.5],[348.175,0.62],[348.178,0.72],[348.181,0.55],[348.184,0.45],[348.187,0.55],[348.190,0.65],[348.192,0.7],[348.194,1.2],[348.196,0.7],[348.198,0.55],[348.201,0.5],[348.204,0.48],[348.207,0.4],[348.210,0.42],[348.213,0.47],[348.216,0.5],[348.219,0.42],[348.222,0.38],[348.225,0.43],[348.228,0.46],[348.231,0.5],[348.234,0.4],[348.237,0.45],[348.240,0.52],[348.243,0.44],[348.246,0.36],[348.249,0.4],[348.252,0.44],[348.255,0.48],[348.258,0.39],[348.261,0.42],[348.264,0.5],[348.267,0.45],[348.270,0.37],[348.273,0.41],[348.276,0.45],[348.279,0.5],[348.282,0.41],[348.285,0.47],[348.288,0.55],[348.291,0.46],[348.294,0.43],[348.297,0.38],[348.300,0.48],[348.303,0.44],[348.306,0.38],[348.309,0.42],[348.312,0.47],[348.315,0.52],[348.318,0.4],[348.321,0.45],[348.324,0.52],[348.327,0.47],[348.330,0.42],[348.333,0.39],[348.336,0.45],[348.339,0.41],[348.342,0.37],[348.345,0.44],[348.348,0.5],[348.351,0.47],[348.354,0.44],[348.357,0.38],[348.360,0.42],[348.363,0.48],[348.366,0.5],[348.369,0.41],[348.372,0.45],[348.375,0.55],[348.378,0.88],[348.380,0.6],[348.382,0.4],[348.385,0.45],[348.388,0.47],[348.391,0.4],[348.394,0.36],[348.397,0.4],[348.400,0.43],[348.403,0.37],[348.406,0.33],[348.409,0.36],[348.412,0.38],[348.415,0.34],[348.418,0.3],[348.421,0.35],[348.424,0.4],[348.427,0.37],[348.430,0.35],[348.433,0.3],[348.436,0.32],[348.439,0.36],[348.441,0.38],[348.443,0.6],[348.445,0.85],[348.447,0.6],[348.450,0.48],[348.452,0.55],[348.455,0.5],[348.458,0.45],[348.461,0.58],[348.464,0.52],[348.467,0.45],[348.470,0.5],[348.473,0.55],[348.476,0.47],[348.479,0.48],[348.482,0.56],[348.485,0.6],[348.488,0.52],[348.491,0.5],[348.494,0.58],[348.497,0.56],[348.500,0.5],[348.503,0.46],[348.506,0.55],[348.509,0.6],[348.512,0.52],[348.515,0.62],[348.518,0.8],[348.520,0.65],[348.522,0.55],[348.525,0.68],[348.528,0.75],[348.530,0.58],[348.532,0.62],[348.535,0.5],[348.538,0.3],[348.540,0.5],[348.542,0.7],[348.545,0.62],[348.548,0.55],[348.550,0.68],[348.552,0.8],[348.555,0.72],[348.558,0.6],[348.560,0.7],[348.562,0.75],[348.564,0.62],[348.566,0.5],[348.568,0.58],[348.570,0.65],[348.572,0.52],[348.574,0.45],
[348.575,0.4],[348.579,1.2],[348.583,0.9],[348.585,0.35],[348.589,1.0],[348.593,null],[348.595,0.95],[348.597,0.7],[348.599,null],[348.603,0.98],[348.607,0.85],[348.609,null],[348.617,1.05],[348.619,0.65],[348.621,null],[348.623,1.0],[348.625,null],[348.640,1.2],[348.644,0.85],[348.648,null],[348.678,0.95],[348.681,0.8],[348.684,0.85],[348.687,0.95],[348.690,0.9],[348.693,0.78],[348.696,0.82],[348.698,0.9],[348.700,0.75],[348.703,0.85],[348.705,0.9],[348.709,null],[348.719,1.05],[348.721,0.95],[348.723,0.9],[348.725,0.85],[348.727,0.8],[348.729,0.9],[348.731,0.95],[348.733,0.85],[348.735,1.0],[348.739,null],[348.755,1.0],[348.757,0.85],[348.759,0.75],[348.761,0.95],[348.763,0.9],[348.766,0.7],[348.768,0.55],[348.770,0.7],[348.772,0.8],[348.774,0.6],[348.776,0.38],[348.778,0.55],[348.780,0.7],[348.782,0.9],[348.784,1.1],[348.786,null],[348.810,0.85],[348.812,0.7],[348.814,0.6],[348.816,0.75],[348.818,0.72],[348.820,0.55],[348.822,0.45],[348.824,0.6],[348.826,0.55],[348.828,0.45],[348.830,0.4],[348.833,0.45],[348.837,0.35],[348.840,0.38],[348.843,0.3],[348.846,0.25],[348.849,0.2],[348.852,0.15],[348.855,0.12],[348.858,0.18],[348.861,0.15],[348.864,0.1],[348.867,0.08],[348.870,0.14],[348.873,0.2],[348.875,0.15],[348.877,0.18],[348.879,null],[348.883,0.85],[348.885,0.78],[348.887,0.7],[348.889,0.55],[348.891,0.4],[348.893,0.3],[348.895,0.25],[348.897,0.2],[348.899,0.15],[348.901,0.5],[348.903,0.9],[348.906,0.75],[348.908,0.6],[348.910,0.8],[348.912,0.95],[348.914,0.85],[348.916,0.75],[348.918,0.55],[348.920,0.4],[348.922,0.6],[348.924,0.85],[348.926,0.5],[348.928,0.2],[348.930,0.1],[348.932,0.0],[348.934,0.2],[348.936,0.35],[348.938,0.2],[348.940,0.1],[348.942,0.15],[348.944,0.18],[348.946,0.12],[348.948,0.08],[348.951,0.12],[348.954,0.15],[348.957,0.08],[348.960,0.05],[348.964,0.06],[348.969,0.08],[348.974,0.04],[348.979,0.02],[348.984,0.04],[348.989,0.03],[348.999,0.02],[349.009,0.01],
[349.03,0.02],[349.05,0.015],[349.07,0.02],[349.10,0.01],[349.12,0.02],[349.15,0.02],[349.17,0.01],[349.20,0.01],[349.22,0.02],[349.25,0.015],[349.27,0.01],[349.30,0.01],[349.32,0.02],[349.354,0.03],[349.375,0.04],[349.395,0.05],[349.415,0.04],[349.436,0.06],[349.446,0.08],[349.456,0.1],[349.466,0.14],[349.476,0.18],[349.484,0.22],[349.492,0.25],[349.500,0.3],[349.507,0.35],[349.512,0.42],[349.517,0.48],[349.522,0.44],[349.527,0.4],[349.532,0.5],[349.537,0.55],[349.541,0.62],[349.545,0.7],[349.549,0.65],[349.553,0.6],[349.556,0.8],[349.559,1.2],[349.561,0.95],[349.563,0.8],[349.566,0.9],[349.570,null],[349.578,0.9],[349.581,0.75],[349.584,0.6],[349.587,0.85],[349.590,1.0],[349.594,null],[349.604,0.7],[349.607,0.82],[349.610,0.95],[349.616,null],[349.624,0.95],[349.626,0.75],[349.628,0.6],[349.631,0.72],[349.635,0.8],[349.638,0.7],[349.641,0.65],[349.645,null],[349.655,1.0],[349.658,0.95],[349.661,0.9],[349.665,null],[349.673,0.8],[349.676,0.72],[349.679,0.65],[349.681,null],[349.685,1.2],[349.687,0.45],[349.690,0.42],[349.693,0.38],[349.696,0.34],[349.700,0.3],[349.703,0.25],[349.706,0.2],[349.709,0.16],[349.712,0.12],[349.716,0.08],[349.720,0.05],[349.725,0.04],[349.730,0.03],[349.735,0.02],[349.740,0.02],[349.745,0.03],[349.750,0.04],[349.755,0.07],[349.760,0.08],[349.765,0.1],[349.771,0.1],[349.776,0.08],[349.781,0.09],[349.786,0.06],[349.791,0.07],[349.794,0.15],[349.797,0.3],[349.801,0.45],[349.803,0.9],[349.805,1.2],[349.807,0.95],[349.809,0.8],[349.811,0.9],[349.813,1.0],[349.815,0.8],[349.817,0.6],[349.819,0.7],[349.821,0.85],[349.824,0.6],[349.827,0.4],[349.830,0.48],[349.833,0.55],[349.836,0.65],[349.840,0.75],[349.843,0.68],[349.846,0.6],[349.849,0.75],[349.852,0.9],[349.855,0.8],[349.858,0.7],[349.860,0.85],[349.862,1.0],[349.864,1.2],[349.866,0.1],[349.870,0.12],[349.874,0.08],[349.878,0.1],[349.882,0.08],[349.887,0.11],[349.892,0.09],[349.897,0.12],[349.903,0.1],[349.908,0.08],[349.913,0.1],[349.918,0.06],[349.923,0.07],[349.928,0.12],[349.933,0.2],[349.938,0.25],[349.943,0.28],[349.947,0.2],[349.951,0.22],[349.955,0.3],[349.959,0.32],[349.963,0.26],[349.967,0.25],[349.970,0.33],[349.973,0.3],[349.976,0.2],[349.980,0.12],[349.984,0.09],[349.988,0.08],[349.992,0.12],[349.996,0.1],[350.000,0.35]
];

// ---------------- CHART ----------------
const FONT = 'Liberation Sans, Arial, sans-serif';
const TXT = '#222';
const LEFT = 103, RIGHT = 22;

function sci(m, e) { return m + '×10{s|' + e + '}'; }
const near = (a, b) => Math.abs(a - b) <= Math.abs(b) * 1e-6 + 1e-30;

const panels = [
  { name: 'T (K)', data: T_DATA, top: 19, height: 114, min: 0, max: 1e6, interval: 5e5, minor: 5, gap: 60,
    fmt: v => near(v, 0) ? '0' : near(v, 5e5) ? sci(5, 5) : near(v, 1e6) ? sci(1, 6) : '' },
  { name: '|B| (nT)', data: B_DATA, top: 133, height: 136, min: 0, max: 40, interval: 20, minor: 4, gap: 31,
    fmt: v => String(v), hline: B_THRESHOLD },
  { name: 'Bz', data: BZ_DATA, top: 270, height: 136, min: -20, max: 20, interval: 20, minor: 4, gap: 41,
    fmt: v => String(v), hline: BZ_THRESHOLD },
  { name: 'Pk (Pa)', data: PK_DATA, top: 406, height: 136, min: 0, max: 1e-10, interval: 5e-11, minor: 5, gap: 76,
    fmt: v => near(v, 0) ? '0' : near(v, 5e-11) ? sci(5, '−11') : near(v, 1e-10) ? sci(1, '−10') : '' },
  { name: 'Pb (Pa)', data: PB_DATA, top: 542, height: 137, min: 0, max: 2e-10, interval: 1e-10, minor: 10, gap: 76,
    fmt: v => near(v, 0) ? '0' : near(v, 1e-10) ? sci(1, '−10') : near(v, 2e-10) ? sci(2, '−10') : '' },
  { name: 'beta', data: BETA_DATA, top: 679, height: 79, min: 0, max: 1.1, interval: 0.5, minor: 0, gap: 33,
    fmt: v => (near(v, 0) || near(v, 0.5) || near(v, 1)) ? v.toFixed(1) : '', hline: BETA_THRESHOLD }
];

const grid = [], xAxis = [], yAxis = [], series = [];
const richSup = { s: { fontSize: 10, fontFamily: FONT, color: TXT, padding: [0, 0, 9, 0] } };

panels.forEach((p, i) => {
  grid.push({ left: LEFT, right: RIGHT, top: p.top, height: p.height, show: true,
    borderColor: '#000', borderWidth: 1, backgroundColor: 'transparent' });
  const last = i === panels.length - 1;
  ['bottom', 'top'].forEach(pos => {
    xAxis.push({
      type: 'value', gridIndex: i, position: pos, min: 348, max: 350, interval: 0.5,
      axisLine: { show: false }, splitLine: { show: false },
      axisTick: { show: true, inside: true, length: 3, lineStyle: { color: '#000' } },
      axisLabel: { show: last && pos === 'bottom', margin: 7, fontFamily: FONT, fontSize: 14, color: TXT,
        formatter: v => X_TICKS.some(t => near(v, t)) ? v.toFixed(1) : '' }
    });
  });
  const yBase = { type: 'value', gridIndex: i, min: p.min, max: p.max, interval: p.interval,
    splitLine: { show: false }, axisLine: { show: false } };
  const minorTick = p.minor ? { show: true, splitNumber: p.minor, length: 9, lineStyle: { color: '#000' } } : { show: false };
  yAxis.push(Object.assign({}, yBase, {
    position: 'left', name: p.name, nameLocation: 'middle', nameRotate: 90, nameGap: p.gap,
    nameTextStyle: { fontFamily: FONT, fontSize: 13, color: TXT },
    axisTick: { show: true, inside: true, length: 19, lineStyle: { color: '#000' } },
    minorTick: minorTick,
    axisLabel: { show: true, margin: 5, fontFamily: FONT, fontSize: 14, color: TXT, formatter: p.fmt, rich: richSup, showMinLabel: true, showMaxLabel: true }
  }));
  const leftIdx = yAxis.length - 1;
  yAxis.push(Object.assign({}, yBase, {
    position: 'right',
    axisTick: { show: true, inside: true, length: 19, lineStyle: { color: '#000' } },
    minorTick: minorTick, axisLabel: { show: false }
  }));
  if (!p.minor) {
    ['left', 'right'].forEach(pos => {
      yAxis.push({ type: 'value', gridIndex: i, min: p.min, max: p.max, interval: 0.1, position: pos,
        splitLine: { show: false }, axisLine: { show: false }, axisLabel: { show: false },
        axisTick: { show: true, inside: true, length: 9, lineStyle: { color: '#000' } } });
    });
  }
  const hData = p.hline !== undefined
    ? [{ yAxis: p.hline, lineStyle: { color: '#ff0000', width: 2, type: [2, 3] } }] : [];
  series.push({
    type: 'line', xAxisIndex: 2 * i, yAxisIndex: leftIdx, data: p.data, z: 2,
    showSymbol: false, symbol: 'none', connectNulls: false, clip: true,
    lineStyle: { color: '#000', width: 1.2 }, animation: false, silent: true,
    markLine: { silent: true, symbol: 'none', animation: false, label: { show: false }, data: hData }
  });
  series.push({
    type: 'line', xAxisIndex: 2 * i, yAxisIndex: leftIdx, data: [], z: 5,
    showSymbol: false, animation: false, silent: true,
    markLine: { silent: true, symbol: 'none', animation: false, label: { show: false }, z: 5,
      data: [
        { xAxis: SHOCK_DAY, lineStyle: { color: '#0000ff', width: 3, type: 'solid' } },
        { xAxis: END_DAY, lineStyle: { color: '#ff0000', width: 3, type: 'solid' } }
      ] }
  });
});

const chart = echarts.init(document.getElementById('chart'), null, { renderer: 'canvas' });
chart.setOption({
  animation: false,
  backgroundColor: '#fff',
  grid, xAxis, yAxis, series,
  graphic: [{ type: 'text', left: 517, top: 779,
    style: { text: X_TITLE, fontFamily: 'Liberation Serif, Times New Roman, serif', fontSize: 16, fill: TXT } }]
});
</script>
</body>
</html>
